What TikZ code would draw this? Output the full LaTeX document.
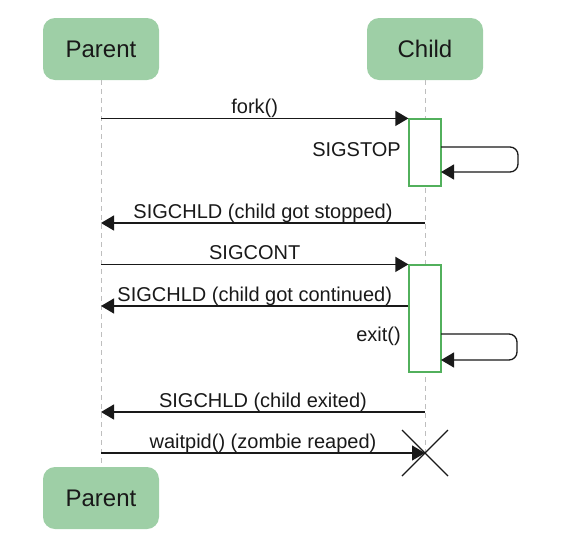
\documentclass[tikz,border=0pt]{standalone}
\usepackage{fontspec}
\setmainfont{Liberation Sans}
\usetikzlibrary{arrows.meta}
\definecolor{nodegreen}{RGB}{158,207,166}
\definecolor{actgreen}{RGB}{82,176,92}
\definecolor{lifegray}{RGB}{190,190,190}
\definecolor{txt}{RGB}{25,25,25}
\begin{document}
\begin{tikzpicture}[x=1pt,y=-1pt,
  actor/.style={fill=nodegreen, rounded corners=12pt, minimum width=116pt, minimum height=62pt,
    font=\fontsize{24}{28}\selectfont, text=txt, inner sep=0pt},
  life/.style={draw=lifegray, dash pattern=on 5pt off 4pt, line width=0.8pt},
  act/.style={draw=actgreen, fill=white, line width=1.2pt, minimum width=32pt, inner sep=0pt},
  msg/.style={draw=txt, line width=1.3pt, -{Triangle[length=13pt,width=15pt]}},
  loopmsg/.style={msg, rounded corners=8pt},
  lbl/.style={font=\fontsize{20}{24}\selectfont, text=txt, inner sep=0pt, anchor=base, yshift=4.5pt},
  sidelbl/.style={font=\fontsize{20}{24}\selectfont, text=txt, inner sep=0pt, anchor=base east},
  cross/.style={draw=txt, line width=1.3pt},
]
\useasboundingbox (0,0) rectangle (586,555);
% actors
\node[actor] (p) at (101,49) {Parent};
\node[actor] (c) at (425,49) {Child};
\node[actor] (p2) at (101,498) {Parent};
\coordinate (x) at (425,453);
% lifelines
\draw[life] (p.south) -- (p2.north);
\draw[life] (c.south) -- (x);
% activation boxes
\node[act, minimum height=67pt] (a1) at (425,152.5) {};
\node[act, minimum height=107pt] (a2) at (425,318.5) {};
% coordinates
\coordinate (l1s) at (441,147); \coordinate (l1a) at (518,147); \coordinate (l1b) at (518,172); \coordinate (l1e) at (441,172);
\coordinate (l2s) at (441,334); \coordinate (l2a) at (517,334); \coordinate (l2b) at (517,360); \coordinate (l2e) at (441,360);
% messages
\draw[msg] (p.south |- a1.north west) -- node[lbl] {fork()} (a1.north west);
\draw[loopmsg] (l1s) -- (l1a) -- (l1b) -- (l1e);
\node[sidelbl] at (401,156) {SIGSTOP};
\draw[msg] (c.south |- 0,223) -- node[lbl] {SIGCHLD (child got stopped)} (p.south |- 0,223);
\draw[msg] (p.south |- a2.north west) -- node[lbl] {SIGCONT} (a2.north west);
\draw[msg] (a2.west |- 0,306) -- node[lbl] {SIGCHLD (child got continued)} (p.south |- 0,306);
\draw[loopmsg] (l2s) -- (l2a) -- (l2b) -- (l2e);
\node[sidelbl] at (401,341) {exit()};
\draw[msg] (c.south |- 0,412) -- node[lbl] {SIGCHLD (child exited)} (p.south |- 0,412);
\draw[msg] (p.south |- x) -- node[lbl] {waitpid() (zombie reaped)} (x);
% destruction mark
\draw[cross] ([shift={(-23,-23)}]x) -- ([shift={(23,23)}]x);
\draw[cross] ([shift={(23,-23)}]x) -- ([shift={(-23,23)}]x);
\end{tikzpicture}
\end{document}
